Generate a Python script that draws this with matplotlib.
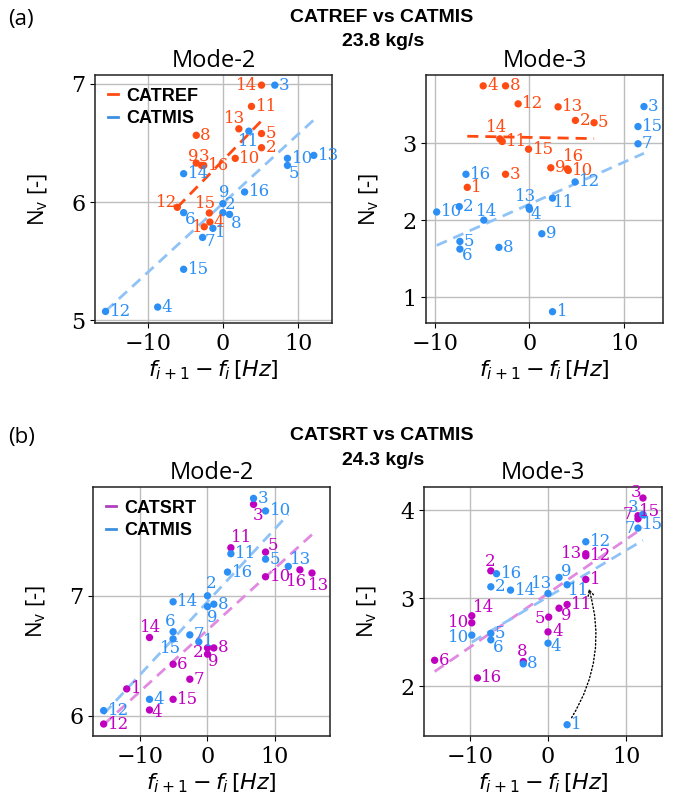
import numpy as np
import matplotlib
matplotlib.use('Agg')
import matplotlib.pyplot as plt

plt.rcParams['mathtext.fontset'] = 'dejavusans'
plt.rcParams['font.family'] = ['DejaVu Serif']

ids = list(range(1, 17))
nan = np.nan

# (a) CATREF vs CATMIS, 23.8 kg/s
a2_ref_x = [-2.48, 5.13, -2.83, -1.73, 5.13, nan, nan, -3.54, -3.54, 1.64, 3.8, -6.06, 2.12, 5.13, -1.81, -2.55]
a2_ref_y = [5.79, 6.46, 6.31, 5.83, 6.58, nan, nan, 6.565, 6.33, 6.37, 6.81, 5.955, 6.62, 6.99, 5.907, 6.31]
a2_mis_x = [-1.33, 0, 6.9, -8.67, 8.58, -5.22, -2.7, 0.88, 0, 8.58, 3.45, -15.6, 12.08, -5.22, -5.22, 2.88]
a2_mis_y = [5.777, 5.91, 6.99, 5.11, 6.31, 5.91, 5.70, 5.895, 5.986, 6.37, 6.6, 5.073, 6.395, 6.24, 5.43, 6.085]

a3_ref_x = [-6.57, 4.85, -2.53, -4.89, 6.82, nan, nan, -2.53, 2.25, 4.1, -2.88, -1.2, 3.02, -3.13, -0.1, 4.0]
a3_ref_y = [2.43, 3.30, 2.60, 3.749, 3.27, nan, nan, 3.749, 2.684, 2.65, 3.026, 3.515, 3.476, 3.06, 2.926, 2.67]
a3_mis_x = [2.43, -7.42, 12.09, 0, -7.35, -7.35, 11.46, -3.23, 1.3, -9.8, 2.43, 4.82, -0.05, -4.82, 11.46, -6.71]
a3_mis_y = [0.814, 2.18, 3.48, 2.145, 1.727, 1.628, 2.996, 1.65, 1.827, 2.11, 2.29, 2.50, 2.17, 2.004, 3.22, 2.60]

# (b) CATSRT vs CATMIS, 24.3 kg/s
b2_srt_x = [-11.98, 0, 6.83, -8.6, 8.61, -5.1, -2.62, 0.94, 0, 8.61, 3.47, -15.4, 15.5, -8.6, -5.1, 13.71]
b2_srt_y = [6.223, 6.565, 7.763, 6.047, 7.365, 6.429, 6.304, 6.565, 6.513, 7.159, 7.401, 5.93, 7.19, 6.652, 6.136, 7.217]
b2_mis_x = [-1.29, 0, 6.83, -8.6, 8.61, -5.1, -2.62, 0.94, 0, 8.61, 3.47, -15.4, 11.98, -5.1, -5.1, 2.97]
b2_mis_y = [6.616, 7.0, 7.813, 6.136, 7.306, 6.70, 6.674, 6.93, 6.91, 7.708, 7.351, 6.042, 7.245, 6.95, 6.64, 7.198]

b3_srt_x = [4.83, -7.31, 12.14, 0, 0.09, -14.49, 11.5, -3.16, 1.41, -9.74, 2.44, 4.83, 4.83, -9.74, 11.5, -9.02]
b3_srt_y = [3.212, 3.31, 4.136, 2.617, 2.785, 2.295, 3.90, 2.28, 2.886, 2.72, 2.928, 3.48, 3.504, 2.80, 3.935, 2.095]
b3_mis_x = [2.44, -7.31, 12.14, 0, -7.31, -7.31, 11.5, -3.16, 1.41, -9.74, 2.44, 4.83, 0, -4.79, 12.14, -6.58]
b3_mis_y = [1.564, 3.129, 3.95, 2.489, 2.60, 2.527, 3.795, 2.254, 3.235, 2.58, 3.152, 3.64, 3.053, 3.091, 3.945, 3.277]

ORANGE = '#ff4a12'
BLUE = '#2b8ff5'
BLUE_LINE = '#8fc3f7'
MAG = '#c000c0'
MAG_LINE = '#e08ae0'

# label offsets (pixels, label centre relative to dot); others go to the right
off_a2_ref = {14: (-15, 0), 13: (-4, 10), 9: (-3, 7), 3: (2, 9), 12: (-11, 5), 15: (-4, 9), 1: (-7, -1)}
off_a2_mis = {11: (0, -10), 5: (6, -8), 9: (1, 11), 2: (7, 8), 8: (7, -9), 6: (6, -7), 1: (7, -4), 7: (7, -4)}
off_a3_ref = {14: (-3, 11), 16: (6, 12)}
off_a3_mis = {13: (-3, 11), 4: (6, -5), 14: (3, 9), 6: (7, -6), 11: (11, -4)}
off_b2_srt = {3: (5, -11), 11: (11, 10), 5: (7, 7), 16: (-3, -12), 13: (7, -12), 14: (1, 10),
              2: (-9, -5), 9: (6, -7), 4: (7, -3)}
off_b2_mis = {13: (12, 7), 2: (4, 12), 9: (5, -11), 6: (-3, 10), 15: (-3, -10)}
off_b3_srt = {3: (-7, 6), 7: (-10, 4), 15: (12, 4), 13: (-14, 0), 2: (-1, 9), 14: (12, 8),
              10: (-13, 0), 5: (-9, -1), 9: (7, -7), 8: (-1, 10)}
off_b3_mis = {3: (-10, 7), 15: (10, -10), 7: (-8, 0), 9: (7, 6), 13: (-6, 10), 11: (11, -6),
              10: (-13, -2), 6: (7, -8), 4: (8, -3)}


def draw_series(ax, xv, yv, dot_c, line_c, offsets):
    x = np.array(xv, float)
    y = np.array(yv, float)
    ok = ~np.isnan(x)
    ax.scatter(x[ok], y[ok], s=28, color=dot_c, edgecolors='none', zorder=3)
    k, b = np.polyfit(x[ok], y[ok], 1)
    xs = np.array([x[ok].min(), x[ok].max()])
    ax.plot(xs, k * xs + b, ls=(0, (4, 2.5)), lw=2, color=line_c, zorder=2)
    for i, xi, yi in zip(ids, x, y):
        if np.isnan(xi):
            continue
        if i in offsets:
            dx, dy = offsets[i]
            ha = 'center'
        else:
            dx, dy = 4, 0
            ha = 'left'
        ax.annotate(str(i), (xi, yi), xytext=(dx, dy), textcoords='offset pixels',
                    ha=ha, va='center', fontsize=12, family='DejaVu Serif',
                    color=dot_c, zorder=4)


def style_axes(ax, title, xlim, ylim, yticks):
    ax.set_xlim(*xlim)
    ax.set_ylim(*ylim)
    ax.set_xticks([-10, 0, 10])
    ax.set_yticks(yticks)
    ax.grid(True, color='#bdbdbd', lw=1)
    ax.set_axisbelow(True)
    ax.tick_params(labelsize=16, labelfontfamily='DejaVu Serif')
    for s in ax.spines.values():
        s.set_color('#222222')
        s.set_linewidth(1.1)
    ax.set_title(title, fontsize=17, family='Open Sans', pad=6)
    ax.set_xlabel(r'$f_{i+1} - f_i\,[Hz]$', fontsize=16, labelpad=3)
    ax.set_ylabel(r'N$_\mathregular{v}$ [-]', fontsize=16, family='Open Sans')
    ax.yaxis.set_label_coords(-0.19, 0.5)


fig = plt.figure(figsize=(6.73, 8.08), dpi=100)
W, H = 673.0, 808.0


def make_ax(left, top, right, bottom):
    return fig.add_axes([left / W, 1 - bottom / H, (right - left) / W, (bottom - top) / H])


axA2 = make_ax(95, 75, 332, 323)
axA3 = make_ax(426, 75, 663, 323)
axB2 = make_ax(93, 487, 330, 736)
axB3 = make_ax(424, 487, 662, 736)

draw_series(axA2, a2_ref_x, a2_ref_y, ORANGE, ORANGE, off_a2_ref)
draw_series(axA2, a2_mis_x, a2_mis_y, BLUE, BLUE_LINE, off_a2_mis)
style_axes(axA2, 'Mode-2', (-17.0, 14.5), (4.975, 7.076), [5, 6, 7])

draw_series(axA3, a3_ref_x, a3_ref_y, ORANGE, ORANGE, off_a3_ref)
draw_series(axA3, a3_mis_x, a3_mis_y, BLUE, BLUE_LINE, off_a3_mis)
style_axes(axA3, 'Mode-3', (-10.93, 14.1), (0.667, 3.89), [1, 2, 3])

draw_series(axB2, b2_srt_x, b2_srt_y, MAG, MAG_LINE, off_b2_srt)
draw_series(axB2, b2_mis_x, b2_mis_y, BLUE, BLUE_LINE, off_b2_mis)
style_axes(axB2, 'Mode-2', (-16.98, 18.17), (5.83, 7.908), [6, 7])

draw_series(axB3, b3_srt_x, b3_srt_y, MAG, MAG_LINE, off_b3_srt)
draw_series(axB3, b3_mis_x, b3_mis_y, BLUE, BLUE_LINE, off_b3_mis)
style_axes(axB3, 'Mode-3', (-15.85, 14.57), (1.436, 4.261), [2, 3, 4])

# arrow from CATMIS point 1 to CATSRT point 1
axB3.annotate('', xy=(b3_srt_x[0], b3_srt_y[0]), xytext=(b3_mis_x[0], b3_mis_y[0]),
              arrowprops=dict(arrowstyle='->', ls=':', color='black', lw=1,
                              connectionstyle='arc3,rad=0.25', shrinkA=6, shrinkB=7))

leg_font = {'family': 'Liberation Sans', 'weight': 'bold', 'size': 13}
for ax, names, cols in [(axA2, ['CATREF', 'CATMIS'], [ORANGE, '#3d8fe0']),
                        (axB2, ['CATSRT', 'CATMIS'], ['#b040c0', '#3d8fe0'])]:
    hs = [plt.Line2D([], [], color=c, lw=2) for c in cols]
    ax.legend(hs, names, loc='upper left', frameon=False, prop=leg_font,
              handlelength=0.55, handletextpad=0.5, borderaxespad=0.3, labelspacing=0.3)

fig.text(8 / W, 1 - 20 / H, '(a)', ha='left', va='center', fontsize=16, family='Open Sans')
fig.text(382 / W, 1 - 18 / H, 'CATREF vs CATMIS', ha='center', va='center',
         fontsize=14, weight='bold', family='Liberation Sans')
fig.text(383 / W, 1 - 41 / H, '23.8 kg/s', ha='center', va='center',
         fontsize=14, weight='bold', family='Liberation Sans')
fig.text(8 / W, 1 - 437 / H, '(b)', ha='left', va='center', fontsize=16, family='Open Sans')
fig.text(382 / W, 1 - 436 / H, 'CATSRT vs CATMIS', ha='center', va='center',
         fontsize=14, weight='bold', family='Liberation Sans')
fig.text(383 / W, 1 - 461 / H, '24.3 kg/s', ha='center', va='center',
         fontsize=14, weight='bold', family='Liberation Sans')

fig.savefig('out.png', dpi=100)
